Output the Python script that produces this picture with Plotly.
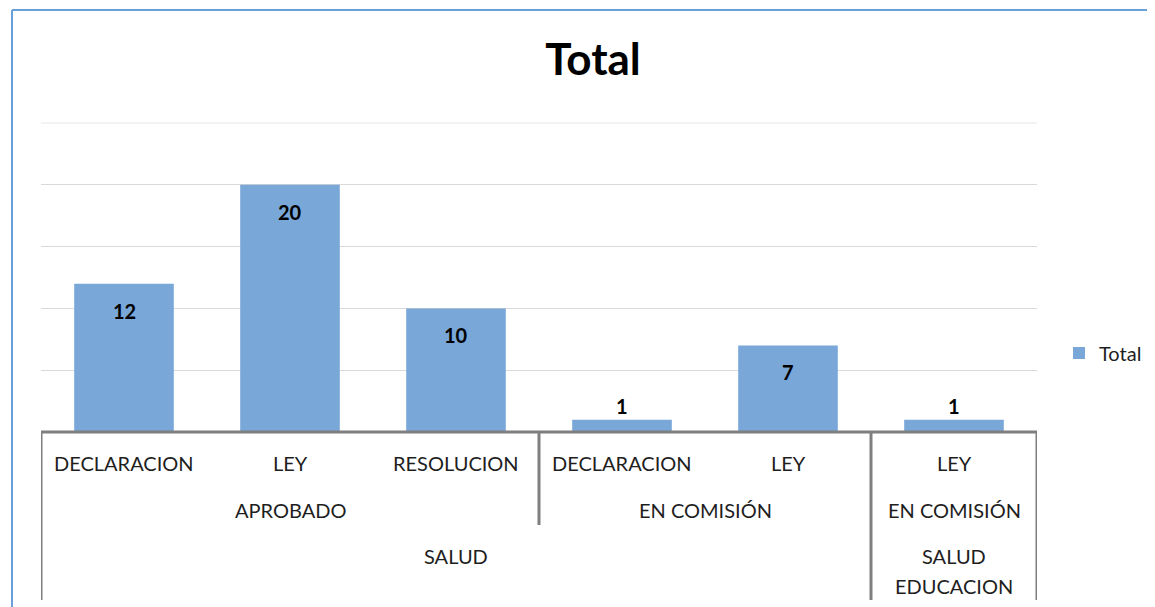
import plotly.graph_objects as go

# ---- data ----
level1 = ["DECLARACION", "LEY", "RESOLUCION", "DECLARACION", "LEY", "LEY"]
level2 = ["APROBADO", "APROBADO", "APROBADO", "EN COMISIÓN", "EN COMISIÓN", "EN COMISIÓN"]
level3 = ["SALUD", "SALUD", "SALUD", "SALUD", "SALUD", "SALUD<br>EDUCACION"]
values = [12, 20, 10, 1, 7, 1]
series_name = "Total"

W, H = 1155, 607
OFF = 8  # page body margin offset in the browser
L_REF, R_REF, T_REF, B_REF = 41, 1037, 123, 432
PH = B_REF - T_REF
FONT = "Lato"
BAR = "#78A7D8"
AXC = "#7f7f7f"
TXT = "#1e1e1e"
YMAX = 25

def py2paper(py):
    return (B_REF - py) / PH

def px2paper(px):
    return (px - L_REF) / (R_REF - L_REF)

x = list(range(len(values)))

fig = go.Figure()
fig.add_trace(go.Bar(
    x=x, y=values, name=series_name, marker=dict(color=BAR, line=dict(width=0)),
    width=0.6, showlegend=True,
))

annotations = []
# data labels
for xi, v in zip(x, values):
    inside = v >= 5
    annotations.append(dict(
        x=xi, y=v, xref="x", yref="y", text=f"<b>{v}</b>", showarrow=False,
        yanchor="middle", yshift=-27 if inside else 14,
        font=dict(family=FONT, size=20, color="#000000"),
    ))

# category level labels: contiguous runs, broken by any outer level change
levels = [level1, level2, level3]

def runs(depth):
    arr = levels[depth]
    out = []
    start = 0
    n = len(arr)
    for i in range(1, n + 1):
        brk = i == n
        if not brk:
            if depth == 0:
                brk = True
            else:
                brk = any(levels[d][i] != levels[d][start] for d in range(depth, 3))
        if brk:
            out.append((start, i - 1, arr[start]))
            start = i
    return out

row_y = {0: 463, 1: 510, 2: 556}
for depth in range(3):
    for s, e, lab in runs(depth):
        for k, line in enumerate(lab.split("<br>")):
            annotations.append(dict(
                x=(s + e) / 2, y=0, xref="x", yref="paper", text=line, showarrow=False,
                yanchor="middle", yshift=-(row_y[depth] + 30 * k - B_REF),
                font=dict(family=FONT, size=20, color=TXT),
            ))

shapes = []
# top gridline at the range edge
shapes.append(dict(type="line", xref="paper", yref="paper", x0=0, x1=1, y0=1, y1=1,
                   line=dict(color="#e6e6e6", width=1), layer="below"))
# axis baseline
shapes.append(dict(type="line", xref="paper", yref="paper", x0=0, x1=1, y0=0, y1=0,
                   line=dict(color=AXC, width=3)))
# group divider lines
bottom = {2: 525, 3: 600}
bounds = [(-0.5, 3), (len(values) - 0.5, 3)]
for i in range(1, len(values)):
    if level3[i] != level3[i - 1]:
        bounds.append((i - 0.5, 3))
    elif level2[i] != level2[i - 1]:
        bounds.append((i - 0.5, 2))
for bx, lv in bounds:
    shapes.append(dict(type="line", xref="x", yref="paper", x0=bx, x1=bx,
                       y0=0, y1=py2paper(bottom[lv]), line=dict(color=AXC, width=3)))
# chart border (blue)
shapes.append(dict(type="line", xref="paper", yref="paper", x0=px2paper(12), x1=px2paper(12),
                   y0=py2paper(10), y1=py2paper(640), line=dict(color="#6A9FD8", width=2)))
shapes.append(dict(type="line", xref="paper", yref="paper", x0=px2paper(12), x1=px2paper(1190),
                   y0=py2paper(10), y1=py2paper(10), line=dict(color="#6A9FD8", width=2)))

fig.update_layout(
    width=W, height=H,
    margin=dict(l=L_REF - OFF, r=W - (R_REF - OFF), t=T_REF - OFF, b=H - (B_REF - OFF), pad=0,
                autoexpand=False),
    paper_bgcolor="white", plot_bgcolor="white",
    title=dict(text="<b>Total</b>", x=(593 - OFF) / W, xanchor="center",
               y=1 - (60 - OFF) / H, yanchor="middle",
               font=dict(family=FONT, size=44, color="#000000")),
    xaxis=dict(range=[-0.5, len(values) - 0.5], showticklabels=False, showgrid=False,
               zeroline=False, showline=False, ticks=""),
    yaxis=dict(range=[0, YMAX], dtick=5, showticklabels=False, showgrid=True,
               gridcolor="#d9d9d9", gridwidth=1, zeroline=False, showline=False, ticks=""),
    legend=dict(x=px2paper(1059), y=py2paper(353), xanchor="left", yanchor="middle",
                font=dict(family=FONT, size=20, color=TXT), bgcolor="rgba(0,0,0,0)"),
    annotations=annotations, shapes=shapes, bargap=0.4,
)
fig.write_html("out.html")
